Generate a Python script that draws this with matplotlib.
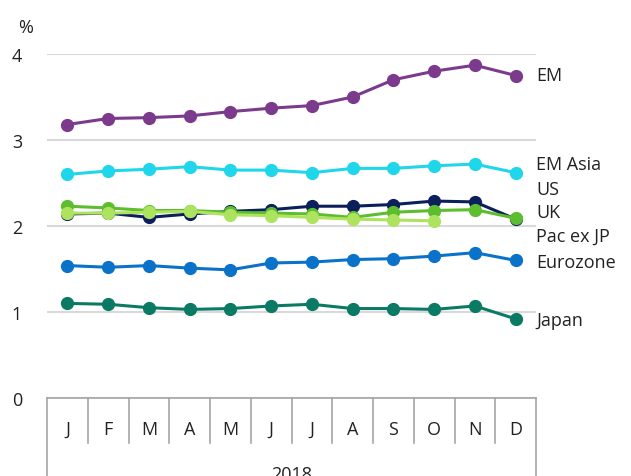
import numpy as np
import matplotlib
matplotlib.use("Agg")
import matplotlib.pyplot as plt
import matplotlib.transforms as mtransforms

plt.rcParams['font.family'] = ['Open Sans', 'DejaVu Sans']

months = ["J", "F", "M", "A", "M", "J", "J", "A", "S", "O", "N", "D"]
year_label = "2018"

em = [3.18, 3.25, 3.26, 3.28, 3.33, 3.37, 3.40, 3.50, 3.70, 3.80, 3.87, 3.75]
em_asia = [2.60, 2.64, 2.66, 2.69, 2.65, 2.65, 2.62, 2.67, 2.67, 2.70, 2.72, 2.62]
us = [2.14, 2.15, 2.10, 2.14, 2.17, 2.19, 2.23, 2.23, 2.25, 2.29, 2.28, 2.08]
uk = [2.23, 2.21, 2.18, 2.18, 2.16, 2.15, 2.14, 2.10, 2.16, 2.18, 2.19, 2.09]
pac_ex_jp = [2.15, 2.15, 2.16, 2.17, 2.13, 2.12, 2.10, 2.08, 2.07, 2.06, np.nan, np.nan]
eurozone = [1.54, 1.52, 1.54, 1.51, 1.49, 1.57, 1.58, 1.61, 1.62, 1.65, 1.69, 1.60]
japan = [1.10, 1.09, 1.05, 1.03, 1.04, 1.07, 1.09, 1.04, 1.04, 1.03, 1.07, 0.92]

# drawing order: back to front
series = [
    ("EM", em, "#7b3a8c", 3.76),
    ("EM Asia", em_asia, "#1fd6ea", 2.72),
    ("Eurozone", eurozone, "#0a72c9", 1.58),
    ("Japan", japan, "#0b7a64", 0.91),
    ("US", us, "#0b1f5a", 2.43),
    ("UK", uk, "#5cbd2e", 2.16),
    ("Pac ex JP", pac_ex_jp, "#aee35f", 1.89),
]

fig = plt.figure(figsize=(6.31, 4.77), dpi=100)
ax = fig.add_axes([47 / 631, 1 - 399 / 477, 489 / 631, 344 / 477])

x = np.arange(len(months))
for name, vals, color, label_y in series:
    ax.plot(x, vals, color=color, lw=2.2, marker="o", ms=8.5, clip_on=False)
    ax.text(1.0, label_y, name, transform=mtransforms.blended_transform_factory(ax.transAxes, ax.transData),
            fontsize=13, color="#222222", va="center", ha="left")

ax.set_xlim(-0.5, 11.5)
ax.set_ylim(0, 4)
ax.set_yticks([0, 1, 2, 3, 4])
ax.set_yticklabels(["0", "1", "2", "3", "4"], fontsize=13, color="#222222")
ax.tick_params(axis="y", length=0, pad=18)
ax.set_xticks([])
ax.grid(axis="y", color="#d9d9d9", lw=1.5)
ax.set_axisbelow(True)
for s in ax.spines.values():
    s.set_visible(False)

# category box below the axis
trans = mtransforms.blended_transform_factory(ax.transData, ax.transAxes)
box_color = "#a6a6a6"
ax.plot([-0.5, 11.5], [0, 0], color=box_color, lw=1.2, transform=trans, clip_on=False)
for b in np.arange(-0.5, 12.0, 1.0):
    bottom = -0.24 if b in (-0.5, 11.5) else -0.13
    ax.plot([b, b], [0, bottom], color=box_color, lw=1.2, transform=trans, clip_on=False)
for i, m in enumerate(months):
    ax.text(i, -0.09, m, transform=trans, ha="center", va="center", fontsize=13, color="#222222")
ax.text(5.5, -0.195, year_label, transform=trans, ha="center", va="top", fontsize=13, color="#222222")

fig.text(26 / 631, 1 - 28 / 477, "%", fontsize=13, color="#222222", ha="center", va="center")

fig.savefig("out.png", dpi=100)
